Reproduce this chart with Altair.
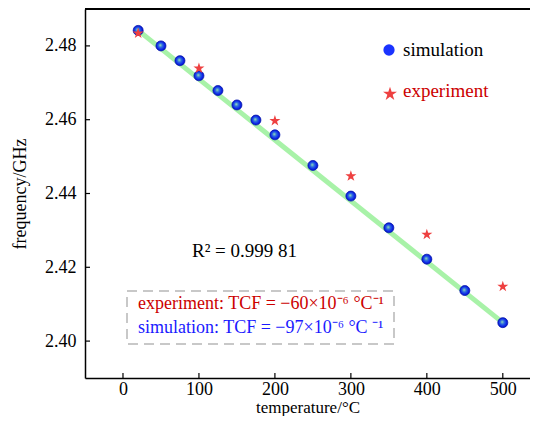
import math
import altair as alt
import pandas as pd

# ---- data ----
sim_t = [20, 50, 75, 100, 125, 150, 175, 200, 250, 300, 350, 400, 450, 500]
sim_f = [2.4842, 2.4800, 2.4760, 2.4719, 2.4679, 2.4640, 2.4599, 2.4559,
         2.4476, 2.4393, 2.4307, 2.4222, 2.4137, 2.4050]
exp_t = [20, 100, 200, 300, 400, 500]
exp_f = [2.4834, 2.4739, 2.4597, 2.4447, 2.4289, 2.4148]
fit_t = [20, 500]
fit_f = [2.4842, 2.4050]
x_ticks = [0, 100, 200, 300, 400, 500]
y_ticks = [2.40, 2.42, 2.44, 2.46, 2.48]

FONT = "Liberation Serif"
W, H = 445, 369
XD = [-50, 535.8]
YD = [2.39, 2.49]

# star symbol path
pts = []
for k in range(10):
    r = 1.0 if k % 2 == 0 else 0.382
    a = math.radians(-90 + 36 * k)
    pts.append(f"{r*math.cos(a):.4f},{r*math.sin(a):.4f}")
STAR = "M" + " L".join(pts) + " Z"

xs = alt.Scale(domain=XD, nice=False, zero=False)
ys = alt.Scale(domain=YD, nice=False, zero=False)

sim = pd.DataFrame({"t": sim_t, "f": sim_f})
exp = pd.DataFrame({"t": exp_t, "f": exp_f})
fit = pd.DataFrame({"t": fit_t, "f": fit_f})

xenc = alt.X("t:Q", scale=xs, axis=alt.Axis(values=x_ticks, title="temperature/°C",
                                             labelPadding=2, titleY=34, titleFontSize=17,
                                             titleBaseline="alphabetic"))
yenc = alt.Y("f:Q", scale=ys, axis=alt.Axis(values=y_ticks, format=".2f", title="frequency/GHz",
                                             labelPadding=9, titlePadding=15))

line = alt.Chart(fit).mark_line(color="#a8f2a8", strokeWidth=5).encode(x=xenc, y=yenc)

grad = {
    "gradient": "radial",
    "x1": 0.42, "y1": 0.42, "r1": 0.0,
    "x2": 0.5, "y2": 0.5, "r2": 0.55,
    "stops": [
        {"offset": 0.0, "color": "#9fe6b0"},
        {"offset": 0.35, "color": "#2f6fe0"},
        {"offset": 0.75, "color": "#0a1ee8"},
        {"offset": 1.0, "color": "#0010a0"},
    ],
}
sim_pts = alt.Chart(sim).mark_point(shape="circle", filled=True, size=100, fill=grad,
                                    stroke="#0818b0", strokeWidth=0.8, opacity=1).encode(
    x="t:Q", y="f:Q")
exp_pts = alt.Chart(exp).mark_point(shape=STAR, filled=True, size=135, color="#ee4040",
                                    opacity=1).encode(x="t:Q", y="f:Q")

xt = alt.Chart(pd.DataFrame({"t": x_ticks})).mark_rule(color="black", strokeWidth=1.2).encode(
    x="t:Q", y=alt.value(H), y2=alt.value(H - 5))
yt = alt.Chart(pd.DataFrame({"f": y_ticks})).mark_rule(color="black", strokeWidth=1.2).encode(
    y="f:Q", x=alt.value(0), x2=alt.value(5))
top = alt.Chart(pd.DataFrame({"a": [0]})).mark_rule(color="black", strokeWidth=2).encode(
    x=alt.value(0), x2=alt.value(W), y=alt.value(0))

one = pd.DataFrame({"a": [0]})
leg_c = alt.Chart(one).mark_point(shape="circle", filled=True, size=127, color="#1a33ff",
                                  opacity=1).encode(x=alt.value(304), y=alt.value(41))
leg_s = alt.Chart(one).mark_point(shape=STAR, filled=True, size=215, color="#ee4040",
                                  opacity=1).encode(x=alt.value(305), y=alt.value(85))
leg_t1 = alt.Chart(one).mark_text(text="simulation", font=FONT, fontSize=19, color="black",
                                  align="left", baseline="middle").encode(
    x=alt.value(318), y=alt.value(41))
leg_t2 = alt.Chart(one).mark_text(text="experiment", font=FONT, fontSize=19, color="#cc0000",
                                  align="left", baseline="middle").encode(
    x=alt.value(318), y=alt.value(82))

r2 = alt.Chart(one).mark_text(text="R² = 0.999 81", font=FONT, fontSize=19, color="black",
                              align="left", baseline="middle").encode(
    x=alt.value(107), y=alt.value(242))

box = alt.Chart(one).mark_rect(fill=None, fillOpacity=0, stroke="#c8c8c8", strokeWidth=2,
                               strokeDash=[10, 6]).encode(
    x=alt.value(42), x2=alt.value(309), y=alt.value(282), y2=alt.value(335))
bt1 = alt.Chart(one).mark_text(text="experiment: TCF = −60×10⁻⁶ °C⁻¹", font=FONT, fontSize=18,
                               color="#cc0000", align="left", baseline="middle").encode(
    x=alt.value(53), y=alt.value(295))
bt2 = alt.Chart(one).mark_text(text="simulation: TCF = −97×10⁻⁶ °C ⁻¹", font=FONT, fontSize=18,
                               color="#1a1aff", align="left", baseline="middle").encode(
    x=alt.value(53), y=alt.value(319))

chart = alt.layer(line, xt, yt, top, sim_pts, exp_pts, leg_c, leg_s, leg_t1, leg_t2, r2,
                  box, bt1, bt2).properties(
    width=W, height=H,
    padding={"left": 77, "top": 1, "right": 0, "bottom": 38},
    autosize=alt.AutoSizeParams(type="none"),
    background="white",
).configure_view(stroke=None).configure_axis(
    grid=False, ticks=False, domainColor="black", domainWidth=1.5,
    labelFont=FONT, labelFontSize=18, labelColor="black",
    titleFont=FONT, titleFontSize=18, titleColor="black", titleFontWeight="normal",
)

chart.save("out.html", embed_options={"renderer": "svg", "actions": False})
